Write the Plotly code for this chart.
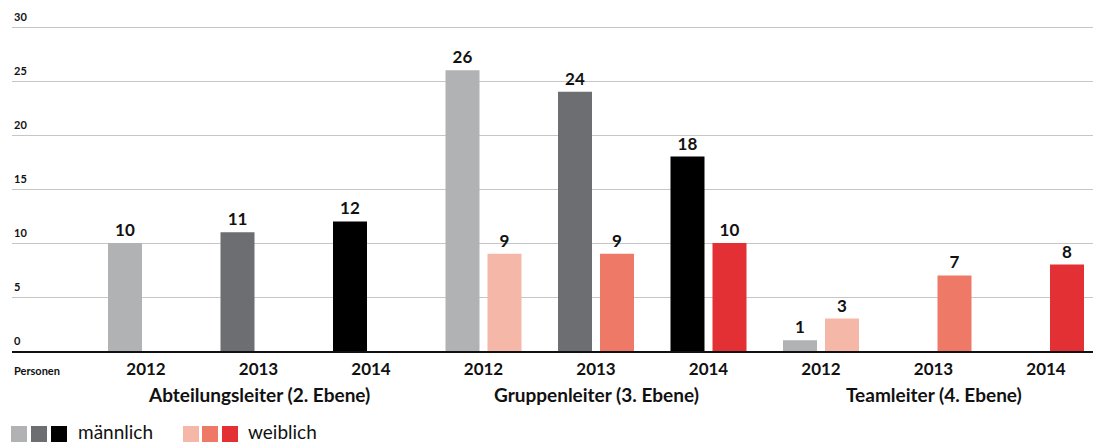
import plotly.graph_objects as go

# ---- data ----
years = ["2012", "2013", "2014", "2012", "2013", "2014", "2012", "2013", "2014"]
groups = ["Abteilungsleiter (2. Ebene)", "Gruppenleiter (3. Ebene)", "Teamleiter (4. Ebene)"]
male = [10, 11, 12, 26, 24, 18, 1, None, None]
female = [None, None, None, 9, 9, 10, 3, 7, 8]
y_ticks = [0, 5, 10, 15, 20, 25, 30]
legend_labels = ["männlich", "weiblich"]

male_colors = ["#b1b2b4", "#6d6e71", "#000000"] * 3
female_colors = ["#f5b8a8", "#ee7967", "#e33034"] * 3

W, H = 1093, 443
L, R, T, B = 12, 0, 10, 92
pw, ph = W - L - R, H - T - B
FONT = "Lato"
UNIT = 10.8  # px per y unit
y_top = 30 + (27 - T) / UNIT
XU = 112.5   # px per category

xpos = list(range(len(years)))

fig = go.Figure()
fig.add_trace(go.Bar(
    x=xpos, y=male, width=34 / XU, offset=-38 / XU,
    marker=dict(color=male_colors, line=dict(width=0)),
    text=[("" if v is None else str(v)) for v in male],
    textposition="outside", cliponaxis=False,
    textfont=dict(family=FONT, size=17, color="#111111", weight="bold"),
    showlegend=False, name=legend_labels[0],
))
fig.add_trace(go.Bar(
    x=xpos, y=female, width=34 / XU, offset=4 / XU,
    marker=dict(color=female_colors, line=dict(width=0)),
    text=[("" if v is None else str(v)) for v in female],
    textposition="outside", cliponaxis=False,
    textfont=dict(family=FONT, size=17, color="#111111", weight="bold"),
    showlegend=False, name=legend_labels[1],
))

x0 = -(146 - L) / XU
x1 = x0 + pw / XU

def px_x(p):
    return (p - L) / pw

def px_y(p):
    return (T + ph - p) / ph

shapes = []
annotations = []
# y tick labels placed above their gridlines
for v in y_ticks:
    annotations.append(dict(text="<b>%d</b>" % v, xref="paper", yref="y",
                            x=px_x(12), y=v, xanchor="left", yanchor="bottom",
                            yshift=2, showarrow=False,
                            font=dict(family=FONT, size=11, color="#111111")))
# legend squares
sq = 16
male_sq_x = [11, 31, 51]
female_sq_x = [183, 202, 222]
for xs, cols in ((male_sq_x, male_colors[:3]), (female_sq_x, female_colors[:3])):
    for xx, c in zip(xs, cols):
        shapes.append(dict(type="rect", xref="paper", yref="paper",
                           x0=px_x(xx), x1=px_x(xx + sq), y0=px_y(442), y1=px_y(426),
                           fillcolor=c, line=dict(width=0)))
annotations.append(dict(text=legend_labels[0], xref="paper", yref="paper",
                        x=px_x(76), y=px_y(431), xanchor="left", yanchor="middle",
                        showarrow=False, font=dict(family=FONT, size=19, color="#111111")))
annotations.append(dict(text=legend_labels[1], xref="paper", yref="paper",
                        x=px_x(246), y=px_y(431), xanchor="left", yanchor="middle",
                        showarrow=False, font=dict(family=FONT, size=19, color="#111111")))
# group labels
for i, g in enumerate(groups):
    annotations.append(dict(text="<b>" + g + "</b>", xref="x", yref="paper",
                            x=1 + 3 * i, y=px_y(395), xanchor="center", yanchor="middle",
                            showarrow=False, font=dict(family=FONT, size=19, color="#111111")))
annotations.append(dict(text="<b>Personen</b>", xref="paper", yref="paper",
                        x=px_x(12), y=px_y(370), xanchor="left", yanchor="middle",
                        showarrow=False, font=dict(family=FONT, size=11, color="#111111")))

fig.update_layout(
    width=W, height=H,
    margin=dict(l=L, r=R, t=T, b=B, pad=0),
    plot_bgcolor="white", paper_bgcolor="white",
    barmode="overlay",
    font=dict(family=FONT, color="#111111"),
    xaxis=dict(range=[x0, x1], tickmode="array", tickvals=xpos, ticktext=years,
               tickfont=dict(family=FONT, size=17, color="#111111", weight="bold"),
               showgrid=False, zeroline=False, showline=True, linecolor="#111111",
               linewidth=2, ticks="outside", ticklen=2, tickcolor="rgba(0,0,0,0)"),
    yaxis=dict(range=[0, y_top], tickmode="array", tickvals=y_ticks,
               showticklabels=False,
               showgrid=True, gridcolor="#c6c6c6", gridwidth=1, zeroline=False,
               showline=False),
    shapes=shapes, annotations=annotations,
)

fig.write_html("out.html", config={"displayModeBar": False},
               post_script="document.body.style.margin='0';")
